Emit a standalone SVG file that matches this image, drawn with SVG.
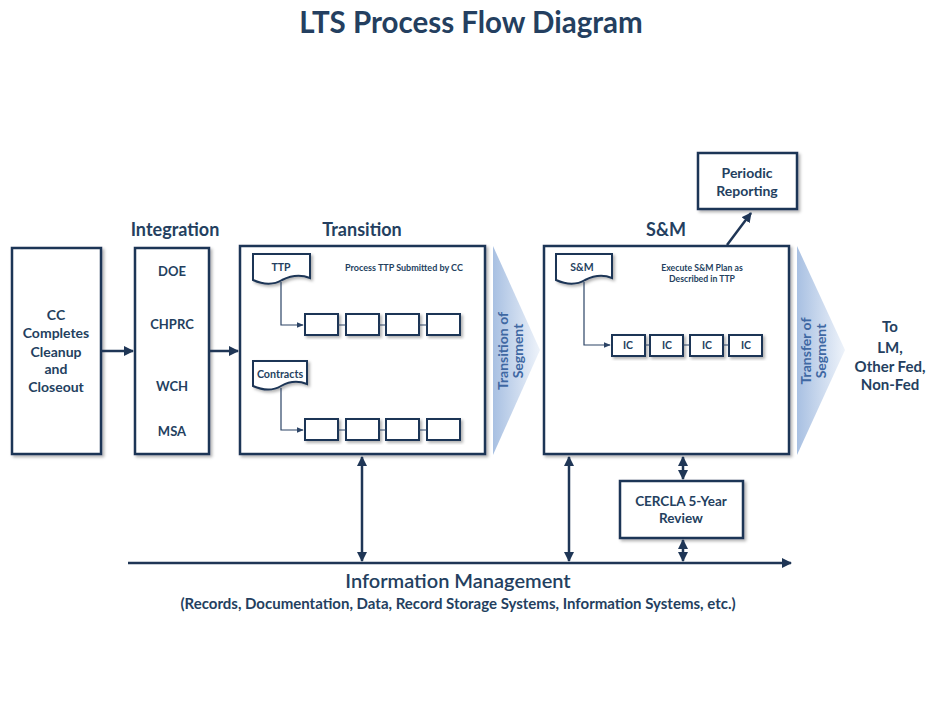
<svg xmlns="http://www.w3.org/2000/svg" width="951" height="704" viewBox="0 0 951 704">
<defs>
<style>
text{font-family:Lato,"Open Sans","Liberation Sans",sans-serif;fill:#243f60;font-weight:bold;text-anchor:middle}
.box{fill:#fff;stroke:#1f3656;stroke-width:2.5;filter:url(#sh)}
.sm{fill:#fff;stroke:#1f3656;stroke-width:2;filter:url(#sh)}
.ln{stroke:#1f3656;stroke-width:2.5;fill:none}
.thin{stroke:#2c4466;stroke-width:1.2;fill:none}
.chev{fill:url(#cg)}
.ct{fill:#3f68a3;font-size:14px}
</style>
<filter id="sh" x="-20%" y="-20%" width="140%" height="140%">
<feDropShadow dx="2" dy="2" stdDeviation="1.5" flood-color="#000" flood-opacity="0.3"/>
</filter>
<linearGradient id="cg" x1="0" y1="0" x2="1" y2="0">
<stop offset="0" stop-color="#a8c0e2"/>
<stop offset="1" stop-color="#eef3fa"/>
</linearGradient>
<marker id="ah" viewBox="0 0 10 10" refX="9" refY="5" markerWidth="4" markerHeight="4" orient="auto-start-reverse">
<path d="M0,0 L10,5 L0,10 z" fill="#1f3656"/>
</marker>
<marker id="as" viewBox="0 0 10 10" refX="9" refY="5" markerWidth="6" markerHeight="6" orient="auto-start-reverse">
<path d="M0,1 L10,5 L0,9 z" fill="#2c4466"/>
</marker>
</defs>
<rect width="951" height="704" fill="#fff"/>

<text x="471" y="33" style="font-size:29.5px">LTS Process Flow Diagram</text>

<g id="headings">
<text x="175" y="236" style="font-size:18px">Integration</text>
<text x="362" y="236" style="font-size:18px">Transition</text>
<text x="666" y="236" style="font-size:18px">S&amp;M</text>
</g>

<g id="chevron-transition">
<path class="chev" d="M493,246 L540,350 L493,455 Z"/>
<text class="ct" transform="translate(508,351) rotate(-90)">Transition of</text>
<text class="ct" transform="translate(523,351) rotate(-90)">Segment</text>
</g>
<g id="chevron-transfer">
<path class="chev" d="M797,246 L845,350 L797,455 Z"/>
<text class="ct" transform="translate(811,351) rotate(-90)">Transfer of</text>
<text class="ct" transform="translate(826,351) rotate(-90)">Segment</text>
</g>

<g id="cc">
<rect class="box" x="12" y="248" width="89" height="206"/>
<g style="font-size:14px">
<text x="56" y="320">CC</text>
<text x="56" y="338">Completes</text>
<text x="56" y="357">Cleanup</text>
<text x="56" y="374">and</text>
<text x="56" y="392">Closeout</text>
</g>
</g>

<g id="integration">
<rect class="box" x="135" y="248" width="74" height="206"/>
<g style="font-size:13px">
<text x="172" y="276">DOE</text>
<text x="172" y="329">CHPRC</text>
<text x="172" y="391">WCH</text>
<text x="172" y="436">MSA</text>
</g>
</g>

<g id="transition">
<rect class="box" x="240" y="246" width="245" height="208"/>
<text x="404" y="271" style="font-size:9px">Process TTP Submitted by CC</text>
</g>

<g id="ttp-doc">
<path class="sm" d="M253,254 H310 V278 C300,274 290,276 282,280 C272,286 262,284 253,280 Z"/>
<text x="281" y="271" style="font-size:10.5px">TTP</text>
</g>
<g id="contracts-doc">
<path class="sm" d="M253,361 H307 V384 C297,380 288,382 281,386 C271,392 262,390 253,386 Z"/>
<text x="280" y="378" style="font-size:10.7px">Contracts</text>
</g>

<g id="row1">
<rect class="sm" x="305" y="314" width="33" height="21"/>
<rect class="sm" x="346" y="314" width="33" height="21"/>
<rect class="sm" x="386" y="314" width="33" height="21"/>
<rect class="sm" x="427" y="314" width="33" height="21"/>
</g>
<g id="row2">
<rect class="sm" x="305" y="419" width="33" height="21"/>
<rect class="sm" x="346" y="419" width="33" height="21"/>
<rect class="sm" x="386" y="419" width="33" height="21"/>
<rect class="sm" x="427" y="419" width="33" height="21"/>
</g>

<g id="sm">
<rect class="box" x="544" y="246" width="245" height="208"/>
<text x="702" y="271" style="font-size:8.7px">Execute S&amp;M Plan as</text>
<text x="702" y="282" style="font-size:8.7px">Described in TTP</text>
</g>
<g id="sm-doc">
<path class="sm" d="M556,254 H612 V278 C602,274 593,276 585,280 C575,286 565,284 556,280 Z"/>
<text x="582" y="271" style="font-size:10.5px">S&amp;M</text>
</g>
<g id="ic-row" style="font-size:10.5px">
<rect class="sm" x="612" y="335" width="33" height="21"/>
<rect class="sm" x="650" y="335" width="33" height="21"/>
<rect class="sm" x="690" y="335" width="33" height="21"/>
<rect class="sm" x="729" y="335" width="33" height="21"/>
<text x="628" y="349">IC</text>
<text x="667" y="349">IC</text>
<text x="707" y="349">IC</text>
<text x="746" y="349">IC</text>
</g>

<g id="periodic">
<rect class="box" x="698" y="153" width="99" height="56"/>
<text x="747" y="178" style="font-size:14px">Periodic</text>
<text x="747" y="196" style="font-size:14px">Reporting</text>
</g>

<g id="cercla">
<rect class="box" x="620" y="481" width="123" height="57"/>
<text x="681" y="506" style="font-size:13.5px">CERCLA 5-Year</text>
<text x="681" y="523" style="font-size:13.5px">Review</text>
</g>

<g id="to-lm" style="font-size:15px">
<text x="890" y="332">To</text>
<text x="890" y="353">LM,</text>
<text x="890" y="372">Other Fed,</text>
<text x="890" y="390">Non-Fed</text>
</g>

<g id="info">
<text x="458" y="588" style="font-size:20px;font-weight:600">Information  Management</text>
<text x="458" y="609" style="font-size:15px">(Records, Documentation, Data, Record Storage Systems, Information Systems, etc.)</text>
</g>

<g id="connectors">
<line class="ln" x1="101" y1="351" x2="133" y2="351" marker-end="url(#ah)"/>
<line class="ln" x1="209" y1="351" x2="238" y2="351" marker-end="url(#ah)"/>
<line class="ln" x1="727" y1="245" x2="751" y2="213" marker-end="url(#ah)"/>
<line class="ln" x1="128" y1="563" x2="791" y2="563" marker-end="url(#ah)"/>
<line class="ln" x1="362" y1="457" x2="362" y2="561" marker-start="url(#ah)" marker-end="url(#ah)"/>
<line class="ln" x1="569" y1="457" x2="569" y2="561" marker-start="url(#ah)" marker-end="url(#ah)"/>
<line class="ln" x1="683" y1="457" x2="683" y2="479" marker-start="url(#ah)" marker-end="url(#ah)"/>
<line class="ln" x1="683" y1="540" x2="683" y2="561" marker-start="url(#ah)" marker-end="url(#ah)"/>
<path class="thin" d="M281,282 V325 H303" marker-end="url(#as)"/>
<path class="thin" d="M281,388 V430 H303" marker-end="url(#as)"/>
<path class="thin" d="M584,282 V345 H610" marker-end="url(#as)"/>
<path class="thin" d="M338,325 H346 M379,325 H386 M419,325 H427"/>
<path class="thin" d="M338,430 H346 M379,430 H386 M419,430 H427"/>
<path class="thin" d="M645,345 H650 M683,345 H690 M723,345 H729"/>
</g>
</svg>
